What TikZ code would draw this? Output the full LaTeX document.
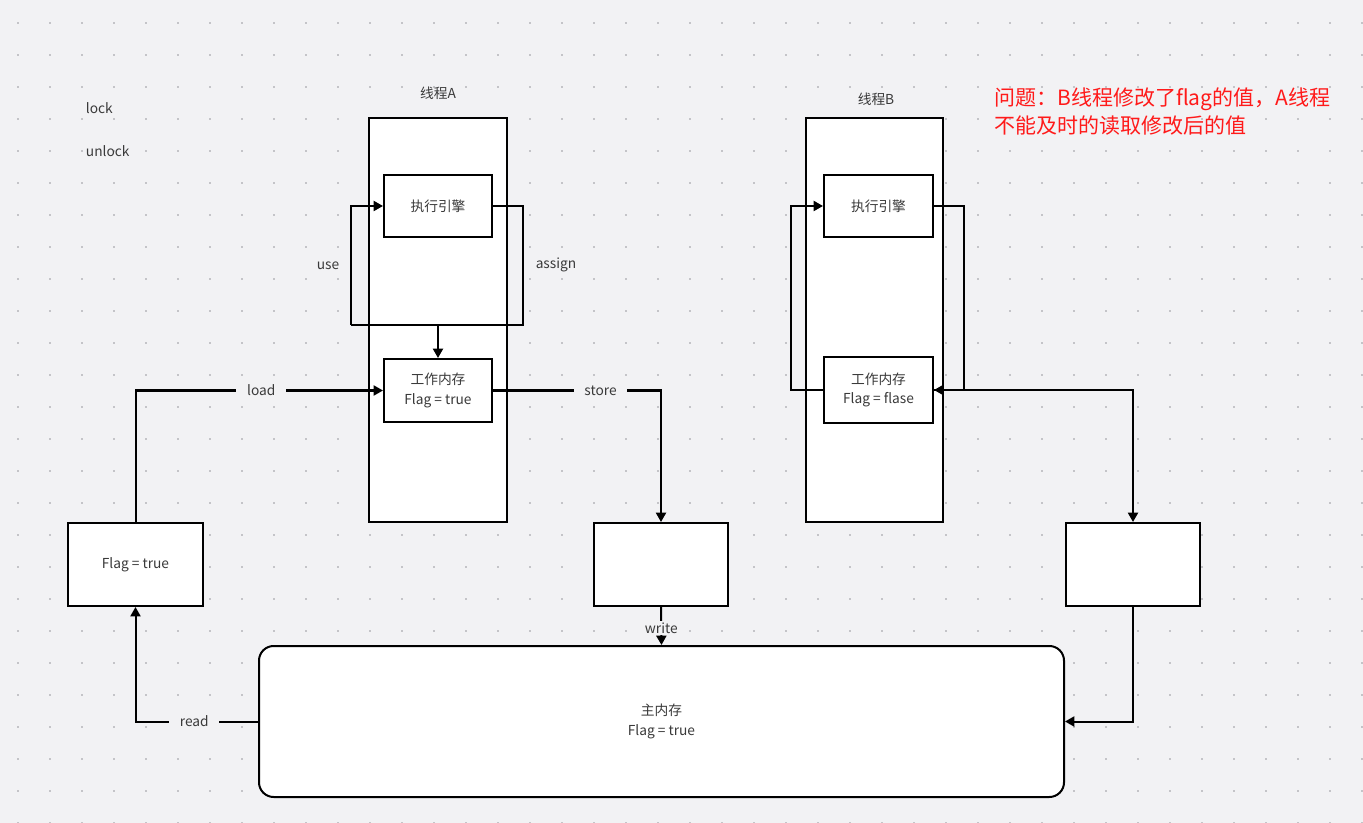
\documentclass[tikz,border=0pt]{standalone}
\usepackage{fontspec}
\setmainfont{Noto Sans CJK SC}
\usetikzlibrary{arrows.meta}
\definecolor{bg}{HTML}{F2F2F4}
\definecolor{dotc}{HTML}{C4C4C8}
\definecolor{txt}{HTML}{3A3A3A}
\definecolor{warn}{HTML}{FF1A1A}
\tikzset{
  x=0.75pt, y=-0.75pt,
  box/.style={draw=black, line width=1.5pt, fill=white, inner sep=0pt, font=\fontsize{10.3pt}{14.5pt}\selectfont, text=txt, align=center},
  conn/.style={draw=black, line width=1.5pt},
  arr/.style={conn, -{Triangle[length=7pt,width=7.5pt]}},
  lab/.style={font=\fontsize{10.3pt}{12pt}\selectfont, text=txt, inner sep=2pt},
  gap/.style={lab, fill=bg, inner xsep=8pt},
}
\begin{document}
\begin{tikzpicture}
\fill[bg] (0,0) rectangle (1363,823);
\useasboundingbox (0,0) rectangle (1363,823);
\foreach \i in {0,...,42} {
  \foreach \j in {0,...,25} {
    \fill[dotc] ({18+32*\i-1},{22.7+32*\j-1}) rectangle ++(2,2);
  }
}
% threads
\node[box, minimum width=103.5pt, minimum height=303pt] (thA) at (438,320) {};
\node[box, minimum width=102.75pt, minimum height=303pt] (thB) at (874.5,320) {};
\node[lab] (tA) at (438,93) {线程A};
\node[lab] (tB) at (876,99) {线程B};
% inner boxes
\node[box, minimum width=81pt, minimum height=46.5pt] (exA) at (438,206) {执行引擎};
\node[box, minimum width=81pt, minimum height=47.25pt] (wmA) at (438,390.5) {工作内存\\Flag = true};
\node[box, minimum width=81.75pt, minimum height=46.5pt] (exB) at (878.5,206) {执行引擎};
\node[box, minimum width=81.75pt, minimum height=49.5pt] (wmB) at (878.5,390) {工作内存\\Flag = flase};
% lower boxes
\node[box, minimum width=101.25pt, minimum height=62.25pt] (fl) at (135.5,564.5) {Flag = true};
\node[box, minimum width=100.5pt, minimum height=62.25pt] (bufA) at (661,564.5) {};
\node[box, minimum width=100.5pt, minimum height=62.25pt] (bufB) at (1133,564.5) {};
\node[box, rounded corners=11pt, minimum width=603.75pt, minimum height=113.25pt] (mm) at (661.5,721.5) {主内存\\Flag = true};
% texts
\node[lab, anchor=west] (lk) at (83,108) {lock};
\node[lab, anchor=west] (ulk) at (83,151) {unlock};
\node[anchor=north west, inner sep=0pt, text=warn, align=left, font=\fontsize{15.75pt}{20.7pt}\selectfont] (q) at (994,88) {问题：B线程修改了flag的值，A线程\\不能及时的读取修改后的值};
% thread A loop
\coordinate (aR) at (523,325);
\coordinate (aL) at (351,325);
\coordinate (aM) at (438,325);
\draw[conn] (exA.east) -| (aR) -- (aL);
\draw[arr] (aL) |- (exA.west);
\draw[arr] (aM) -- (wmA.north);
\node[lab] (use) at (328,266) {use};
\node[lab] (asg) at (556,265) {assign};
% load / store / read / write
\draw[arr] (fl.north) |- node[gap, pos=0.754] {load} (wmA.west);
\draw[arr] (wmA.east) -| node[gap, pos=0.32] {store} (bufA.north);
\draw[arr] (mm.west) -| node[gap, pos=0.26] {read} (fl.south);
\draw[arr] (bufA.south) -- node[lab, fill=bg, inner ysep=1pt, pos=0.55] {write} (mm.north);
% thread B loop
\coordinate (bL) at (791,390);
\coordinate (bR) at (964,206);
\draw[arr] (wmB.west) -- (bL) |- (exB.west);
\draw[arr] (exB.east) -- (bR) |- (wmB.east);
\draw[arr] (wmB.east) -| (bufB.north);
\draw[arr] (bufB.south) |- (mm.east);
\end{tikzpicture}
\end{document}
